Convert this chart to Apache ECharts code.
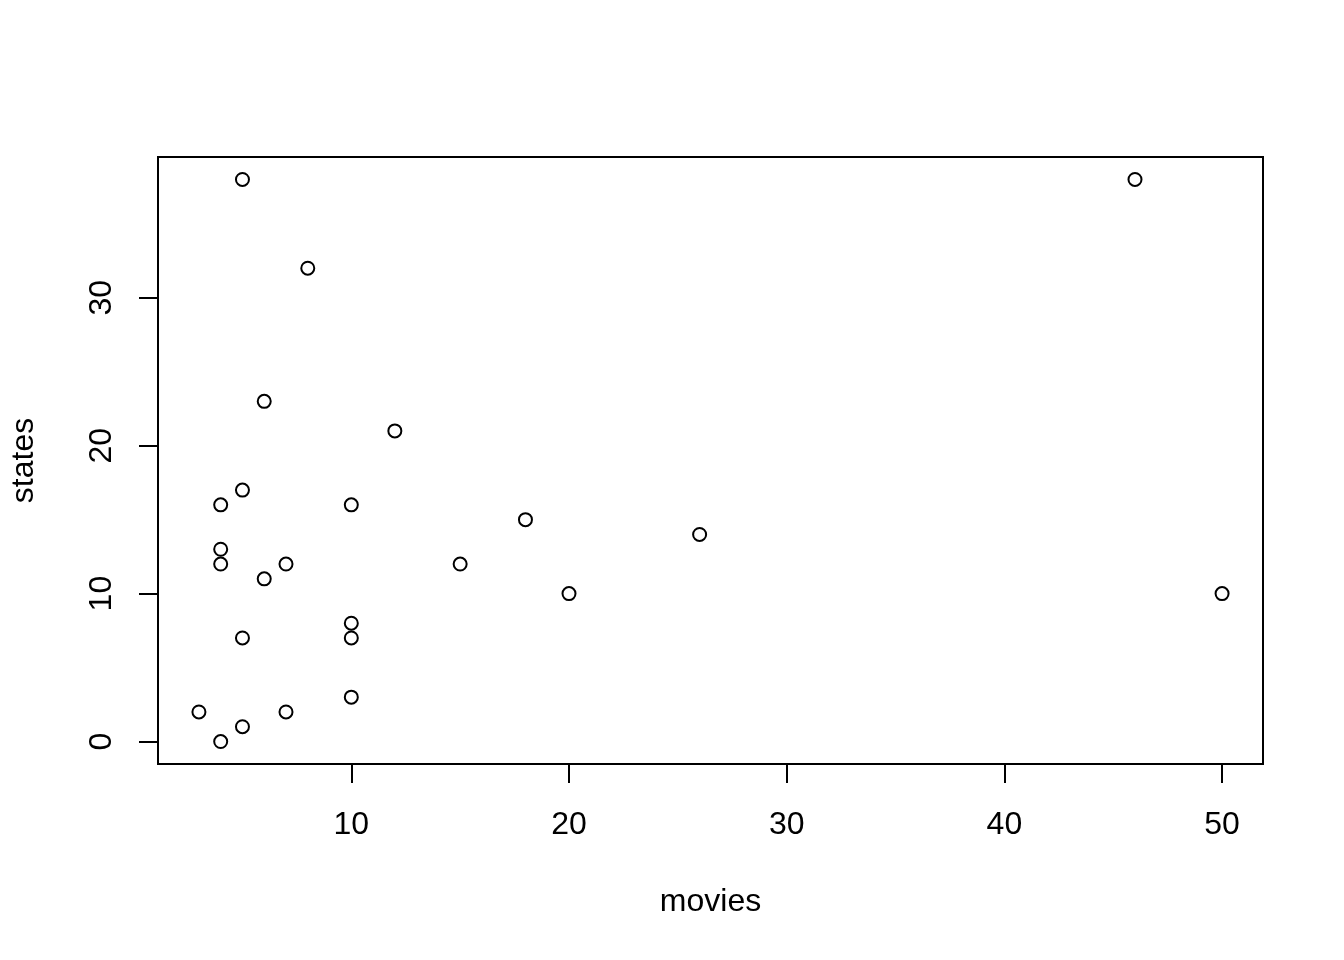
<!DOCTYPE html>
<html>
<head>
<meta charset="utf-8">
<script src="https://cdn.jsdelivr.net/npm/echarts@6/dist/echarts.min.js"></script>
<style>html,body{margin:0;padding:0;background:#fff;}#chart{width:1344px;height:960px;}</style>
</head>
<body>
<div id="chart"></div>
<script>
const movies = [5, 46, 8, 6, 12, 5, 4, 10, 18, 26, 4, 4, 7, 15, 6, 20, 50, 10, 5, 10, 10, 3, 7, 5, 4];
const states = [38, 38, 32, 23, 21, 17, 16, 16, 15, 14, 13, 12, 12, 12, 11, 10, 10, 8, 7, 7, 3, 2, 2, 1, 0];
const xTicks = [10, 20, 30, 40, 50];
const yTicks = [0, 10, 20, 30];

const points = movies.map((m, i) => [m, states[i]]);
const font = 'Liberation Sans, Arial, sans-serif';
const chart = echarts.init(document.getElementById('chart'), null, {renderer: 'canvas'});
chart.setOption({
  animation: false,
  backgroundColor: '#fff',
  grid: {left: 157, right: 81, top: 157, bottom: 196, show: true, borderColor: '#000', borderWidth: 2, backgroundColor: 'transparent'},
  xAxis: {
    type: 'value', min: 1.12, max: 51.88, position: 'bottom',
    name: 'movies', nameLocation: 'middle', nameGap: 122,
    nameTextStyle: {fontSize: 32, color: '#000', fontFamily: font},
    splitLine: {show: false},
    axisLine: {show: true, onZero: false, lineStyle: {color: '#000', width: 2}},
    axisTick: {show: true, inside: false, length: 19, customValues: xTicks, lineStyle: {color: '#000', width: 2}},
    axisLabel: {customValues: xTicks, fontSize: 32, color: '#000', fontFamily: font, margin: 45}
  },
  yAxis: {
    type: 'value', min: -1.52, max: 39.52,
    name: 'states', nameLocation: 'middle', nameGap: 118, nameRotate: 90,
    nameTextStyle: {fontSize: 32, color: '#000', fontFamily: font},
    splitLine: {show: false},
    axisLine: {show: true, onZero: false, lineStyle: {color: '#000', width: 2}},
    axisTick: {show: true, inside: false, length: 19, customValues: yTicks, lineStyle: {color: '#000', width: 2}},
    axisLabel: {customValues: yTicks, rotate: 90, fontSize: 32, color: '#000', fontFamily: font, margin: 40}
  },
  series: [{
    type: 'scatter', data: points, symbol: 'circle', symbolSize: 13,
    itemStyle: {color: 'transparent', borderColor: '#000', borderWidth: 2, opacity: 1}
  }]
});
</script>
</body>
</html>
